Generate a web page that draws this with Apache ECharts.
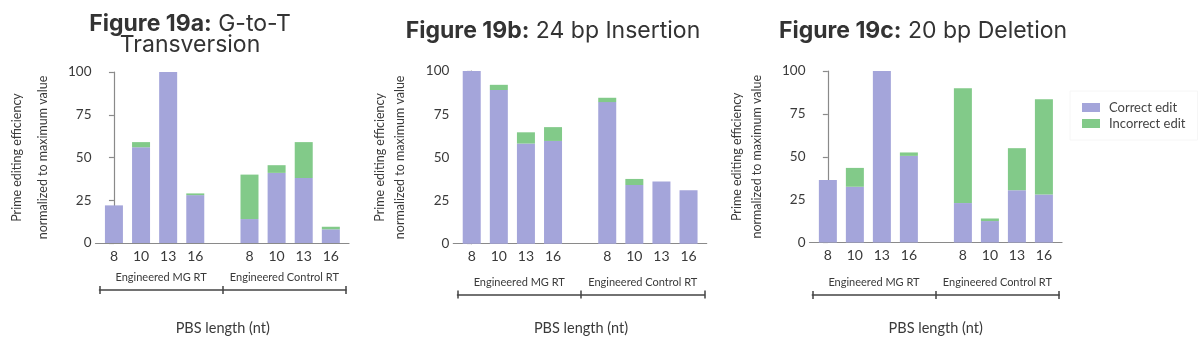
<!DOCTYPE html>
<html>
<head>
<meta charset="utf-8">
<script src="https://cdn.jsdelivr.net/npm/echarts@6/dist/echarts.min.js"></script>
<style>
html,body{margin:0;padding:0;background:#fff;}
#chart{width:1200px;height:340px;}
</style>
</head>
<body>
<div id="chart"></div>
<script>
// ---- data ----
const pbsLengths = ['8', '10', '13', '16'];
const groupNames = ['Engineered MG RT', 'Engineered Control RT'];
const seriesNames = ['Correct edit', 'Incorrect edit'];
const yTicks = [0, 25, 50, 75, 100];
const xAxisTitle = 'PBS length (nt)';
const yAxisTitle = 'Prime editing efficiency\nnormalized to maximum value';

const titleA = ['Figure 19a:', ' G-to-T', 'Transversion'];
const titleB = ['Figure 19b:', ' 24 bp Insertion'];
const titleC = ['Figure 19c:', ' 20 bp Deletion'];

// order: MG RT 8,10,13,16 then Control RT 8,10,13,16
const correctA   = [22, 56, 100, 28, 14, 41, 38, 8];
const incorrectA = [0, 3, 0, 1, 26, 4.5, 21, 1.5];
const correctB   = [100, 89, 58, 59.5, 82, 34, 36, 31];
const incorrectB = [0, 3, 6.5, 8, 2.5, 3.5, 0, 0];
const correctC   = [36.5, 32.5, 100, 50.5, 23, 12.5, 30.5, 28];
const incorrectC = [0, 11, 0, 2, 67, 1.5, 24.5, 55.5];

// ---- styling / layout ----
const COLORS = ['#a4a5da', '#82ca89'];
const AXIS = '#8a8a8a';
const TXT = '#3a3a3a';
const LABEL_FONT = 'Lato, "Open Sans", sans-serif';
const TITLE_FONT = 'Inter, Roboto, sans-serif';

// slot positions: groups of 4 separated by one empty slot
const slotPos = [];
const slotLabel = {};
groupNames.forEach((g, gi) => {
  pbsLengths.forEach((p, i) => {
    const pos = gi * (pbsLengths.length + 1) + i;
    slotPos.push(pos);
    slotLabel[pos] = p;
  });
});

const panels = [
  { c: correctA, i: incorrectA, left: 95.5, width: 253.5, top: 72, height: 171,
    gLeft: 99.5, gWidth: 246.5, gLine: 290, nameGap: 39.5, nameLH: 26, nameGapX: 31 },
  { c: correctB, i: incorrectB, left: 453.3, width: 253.4, top: 71, height: 172.7,
    gLeft: 457.5, gWidth: 247, gLine: 294.5, nameGap: 43.3, nameLH: 20, nameGapX: 26.5 },
  { c: correctC, i: incorrectC, left: 809.5, width: 252.5, top: 71, height: 171.5,
    gLeft: 812.3, gWidth: 246.8, gLine: 295, nameGap: 42.5, nameLH: 20, nameGapX: 26 }
];

const grid = [], xAxis = [], yAxis = [], series = [];
panels.forEach((p, k) => {
  // main plot grid
  grid.push({ left: p.left, top: p.top, width: p.width, height: p.height });
  const gi = grid.length - 1;
  xAxis.push({
    type: 'value', gridIndex: gi, min: -0.68, max: 8.67,
    splitLine: { show: false },
    axisLine: { show: true, lineStyle: { color: AXIS, width: 1.2 } },
    axisTick: { show: false },
    axisLabel: {
      customValues: slotPos,
      formatter: v => slotLabel[v] !== undefined ? slotLabel[v] : '',
      fontSize: 14, color: TXT, fontFamily: LABEL_FONT, margin: 6
    }
  });
  yAxis.push({
    type: 'value', gridIndex: gi, min: 0, max: 100, interval: 25,
    splitLine: { show: false },
    axisLine: { show: true, lineStyle: { color: AXIS, width: 1.2 } },
    axisTick: { show: true, length: 5, lineStyle: { color: AXIS, width: 1.2 } },
    axisLabel: { fontSize: 13.5, color: TXT, fontFamily: LABEL_FONT, margin: 4,
      customValues: yTicks },
    name: yAxisTitle, nameLocation: 'middle', nameGap: p.nameGap,
    nameTextStyle: { fontSize: 12.5, color: TXT, fontFamily: LABEL_FONT, lineHeight: p.nameLH }
  });
  const xi = xAxis.length - 1, yi = yAxis.length - 1;
  [p.c, p.i].forEach((vals, s) => {
    series.push({
      type: 'bar', name: seriesNames[s], stack: 'panel' + k,
      xAxisIndex: xi, yAxisIndex: yi, barWidth: 18,
      itemStyle: { color: COLORS[s] },
      // value first so that the stacked dimension is the y value
      encode: { x: 1, y: 0 },
      data: vals.map((v, j) => [v, slotPos[j]])
    });
  });

  // group bracket grid
  grid.push({ left: p.gLeft, top: p.gLine - 20, width: p.gWidth, height: 20 });
  const bg = grid.length - 1;
  xAxis.push({
    type: 'category', gridIndex: bg, position: 'bottom', data: groupNames, boundaryGap: true,
    axisLine: { show: true, lineStyle: { color: '#444', width: 1.5 } },
    axisTick: { show: true, inside: true, length: 4, interval: 0, lineStyle: { color: '#444', width: 1.5 } },
    axisLabel: { inside: true, interval: 0, margin: 7, fontSize: 11, color: TXT, fontFamily: LABEL_FONT },
    name: xAxisTitle, nameLocation: 'middle', nameGap: p.nameGapX,
    nameTextStyle: { fontSize: 14.5, color: TXT, fontFamily: LABEL_FONT }
  });
  xAxis.push({
    type: 'category', gridIndex: bg, position: 'bottom', data: groupNames, boundaryGap: true,
    axisLine: { show: false },
    axisTick: { show: true, inside: false, length: 4, interval: 0, lineStyle: { color: '#444', width: 1.5 } },
    axisLabel: { show: false }
  });
  yAxis.push({ type: 'value', gridIndex: bg, show: false });
});

const richTitle = {
  b: { fontWeight: 'bold', fontSize: 23, color: '#333', fontFamily: TITLE_FONT, lineHeight: 21 },
  r: { fontWeight: 'normal', fontSize: 23, color: '#333', fontFamily: TITLE_FONT, lineHeight: 21 }
};

const option = {
  animation: false,
  backgroundColor: '#fff',
  title: [
    { text: '{b|' + titleA[0] + '}{r|' + titleA[1] + '}\n{r|' + titleA[2] + '}',
      left: 185, top: 9, textAlign: 'center', textStyle: { rich: richTitle } },
    { text: '{b|' + titleB[0] + '}{r|' + titleB[1] + '}',
      left: 548, top: 16, textAlign: 'center', textStyle: { rich: richTitle } },
    { text: '{b|' + titleC[0] + '}{r|' + titleC[1] + '}',
      left: 918, top: 16, textAlign: 'center', textStyle: { rich: richTitle } }
  ],
  legend: {
    data: seriesNames, orient: 'vertical', left: 1070, top: 91,
    padding: [10, 12], borderColor: '#f6f6f6', borderWidth: 1,
    itemWidth: 18, itemHeight: 9, itemGap: 3, icon: 'rect',
    textStyle: { fontSize: 13, color: '#444', fontFamily: LABEL_FONT, padding: [0, 0, 0, 4] }
  },
  grid, xAxis, yAxis, series
};

const chart = echarts.init(document.getElementById('chart'), null, { renderer: 'canvas' });
chart.setOption(option);
</script>
</body>
</html>
